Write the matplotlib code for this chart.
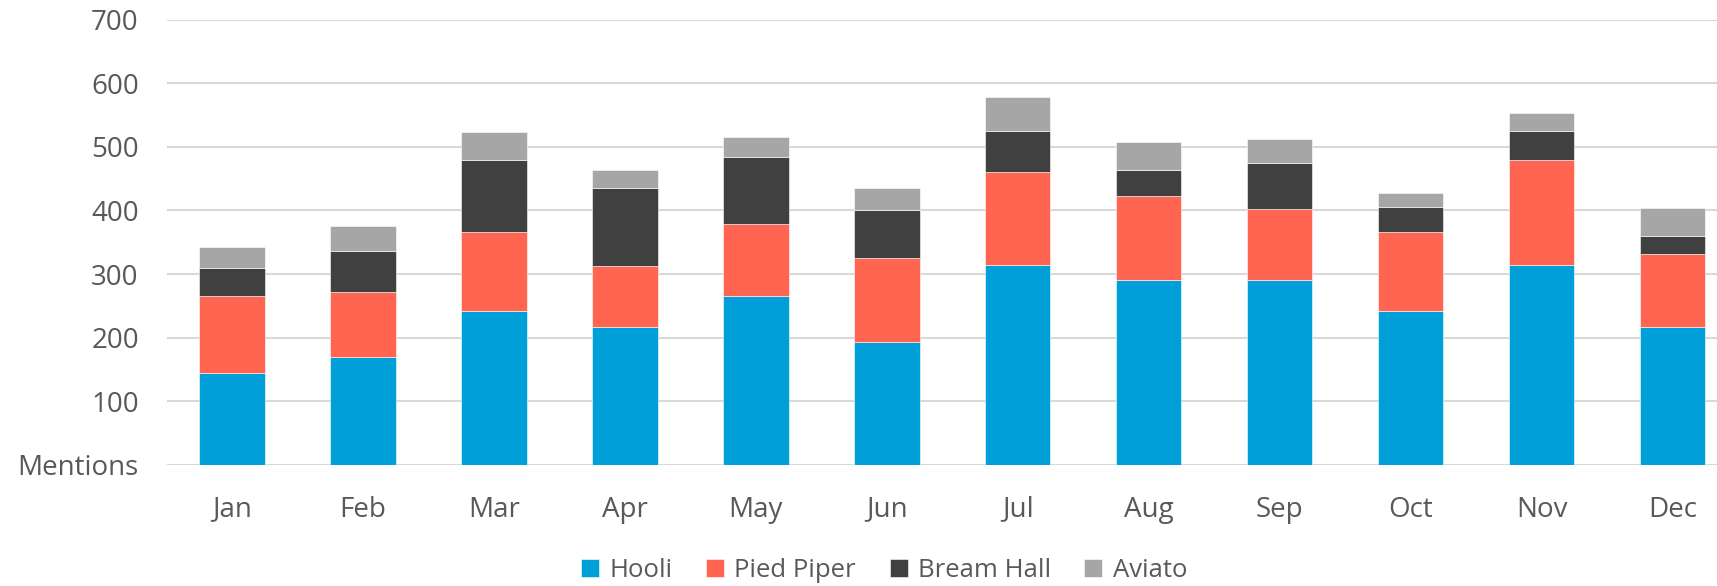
import matplotlib.pyplot as plt
import numpy as np

months = ["Jan", "Feb", "Mar", "Apr", "May", "Jun", "Jul", "Aug", "Sep", "Oct", "Nov", "Dec"]
hooli = [145, 169, 242, 217, 266, 193, 315, 290, 290, 242, 315, 217]
pied_piper = [121, 103, 124, 95, 113, 133, 145, 133, 113, 124, 164, 114]
bream_hall = [44, 64, 113, 123, 105, 74, 65, 40, 72, 39, 46, 29]
aviato = [32, 40, 44, 29, 31, 35, 53, 44, 38, 22, 29, 44]

series = [
    ("Hooli", hooli, "#009FDA"),
    ("Pied Piper", pied_piper, "#FF6550"),
    ("Bream Hall", bream_hall, "#404040"),
    ("Aviato", aviato, "#A6A6A6"),
]

text_col = "#595959"
plt.rcParams['font.family'] = ['Open Sans', 'DejaVu Sans']

fig = plt.figure(figsize=(17.17, 5.86), dpi=100)
ax = fig.add_axes([0.097, 0.2065, 0.903, 0.76])

x = np.arange(len(months))
bottom = np.zeros(len(months))
for name, vals, col in series:
    ax.bar(x, vals, width=0.5, bottom=bottom, color=col, label=name,
           edgecolor="white", linewidth=0.4, zorder=3)
    bottom += np.array(vals)

ax.set_ylim(0, 700)
ax.set_xlim(-0.5, 11.34)
yt = np.arange(0, 701, 100)
ax.set_yticks(yt)
ax.set_yticklabels(["Mentions"] + [str(v) for v in yt[1:]])
ax.set_xticks(x)
ax.set_xticklabels(months)
ax.tick_params(axis="both", length=0, labelsize=20, colors=text_col)
ax.tick_params(axis="y", pad=20)
ax.tick_params(axis="x", pad=22)
ax.grid(axis="y", color="#D9D9D9", linewidth=1.5, zorder=0)
for s in ax.spines.values():
    s.set_visible(False)

fig.legend(loc="center", bbox_to_anchor=(0.515, 0.026), ncol=4, frameon=False,
           fontsize=18.5, labelcolor=text_col, handlelength=0.7, handleheight=0.7,
           handletextpad=0.4, columnspacing=1.3)

fig.savefig("out.png", dpi=100)
